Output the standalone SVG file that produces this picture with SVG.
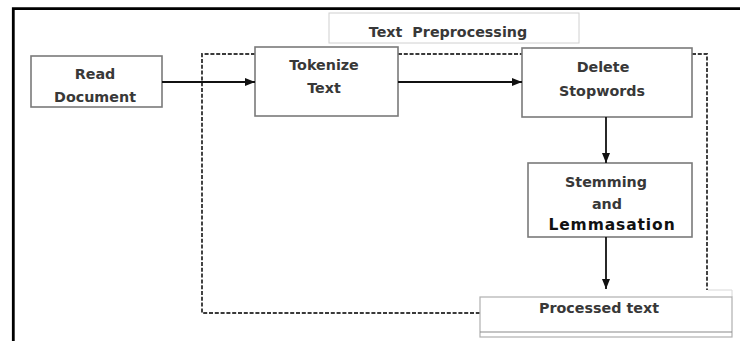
<svg xmlns="http://www.w3.org/2000/svg" width="740" height="341" viewBox="0 0 740 341">
  <style>
    .box { fill: #ffffff; stroke: #7a7a7a; stroke-width: 1.6; }
    .lbl { font-family: "DejaVu Sans", "Liberation Sans", sans-serif; font-weight: bold; font-size: 14.3px; fill: #383838; text-anchor: middle; }
    .big { font-size: 15.5px; fill: #111111; letter-spacing: 0.9px; }
    .flow { stroke: #111111; stroke-width: 1.8; fill: none; }
    .group { stroke: #3a3a3a; stroke-width: 1.9; fill: none; stroke-dasharray: 4 1.8; }
  </style>
  <defs>
    <marker id="arrow" viewBox="0 0 10 8" refX="10" refY="4" markerWidth="10" markerHeight="8" markerUnits="userSpaceOnUse" orient="auto">
      <path d="M0,0 L10,4 L0,8 Z" fill="#111111"/>
    </marker>
  </defs>

  <rect width="740" height="341" fill="#ffffff"/>

  <!-- outer frame -->
  <path d="M13.3,341 V8.7 H740" fill="none" stroke="#000000" stroke-width="2.8"/>

  <!-- preprocessing group boundary -->
  <g id="preprocessing-boundary">
    <path class="group" d="M255,54 H202 V313 H480"/>
    <path class="group" d="M398,54 H522"/>
    <path class="group" d="M692,54 H707 V290"/>
    <path d="M708,290 H732 V297" fill="none" stroke="#d8d8d8" stroke-width="1"/>
  </g>

  <g id="title">
    <rect x="329" y="13" width="250" height="30" fill="#ffffff" stroke="#d0d0d0" stroke-width="1"/>
    <text class="lbl" x="448" y="37" xml:space="preserve">Text  Preprocessing</text>
  </g>

  <g id="read-document">
    <rect class="box" x="31" y="56" width="131" height="51"/>
    <text class="lbl" x="95" y="79">Read</text>
    <text class="lbl" x="95" y="102">Document</text>
  </g>

  <g id="tokenize-text">
    <rect class="box" x="255" y="47" width="143" height="69"/>
    <text class="lbl" x="324" y="70">Tokenize</text>
    <text class="lbl" x="324" y="93">Text</text>
  </g>

  <g id="delete-stopwords">
    <rect class="box" x="522" y="48" width="170" height="69"/>
    <text class="lbl" x="603" y="72">Delete</text>
    <text class="lbl" x="602" y="96">Stopwords</text>
  </g>

  <g id="stemming-lemmasation">
    <rect class="box" x="528" y="163" width="164" height="74"/>
    <text class="lbl" x="606" y="187">Stemming</text>
    <text class="lbl" x="607" y="209">and</text>
    <text class="lbl big" x="612" y="230">Lemmasation</text>
  </g>

  <g id="processed-text">
    <rect x="480" y="297" width="252" height="40" fill="#ffffff" stroke="#b0b0b0" stroke-width="1.2"/>
    <line x1="480" y1="332" x2="732" y2="332" stroke="#8a8a8a" stroke-width="1.2"/>
    <text class="lbl" x="599" y="313">Processed text</text>
  </g>

  <g id="connectors">
    <line class="flow" x1="162" y1="82" x2="255" y2="82" marker-end="url(#arrow)"/>
    <line class="flow" x1="398" y1="82" x2="522" y2="82" marker-end="url(#arrow)"/>
    <line class="flow" x1="606" y1="117" x2="606" y2="163" marker-end="url(#arrow)"/>
    <line class="flow" x1="606" y1="237" x2="606" y2="289" marker-end="url(#arrow)"/>
  </g>
</svg>
